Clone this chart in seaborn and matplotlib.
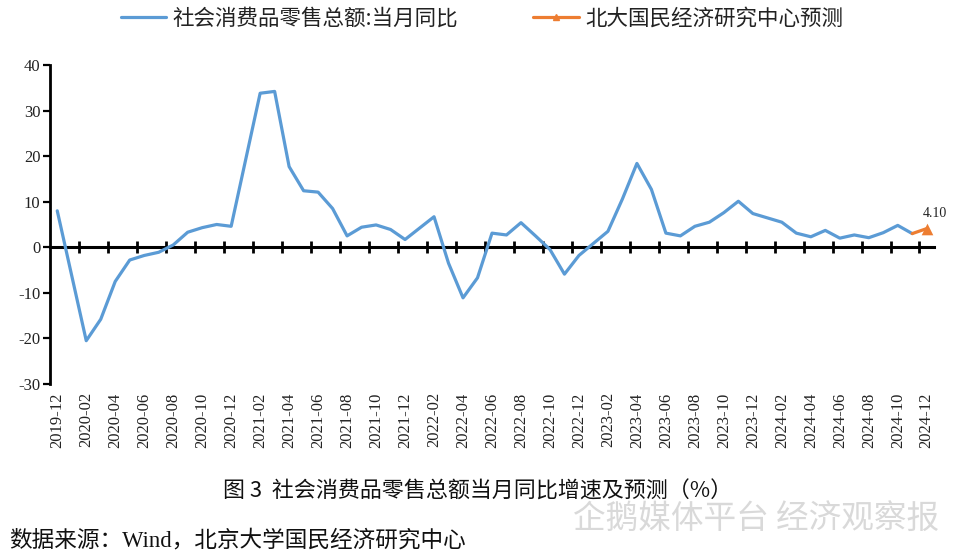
import matplotlib
matplotlib.use("Agg")
import matplotlib.pyplot as plt
from matplotlib.lines import Line2D
import seaborn as sns
import pandas as pd

# ---------------- data ----------------
months = [
    "2019-12", "2020-02", "2020-03", "2020-04", "2020-05", "2020-06", "2020-07",
    "2020-08", "2020-09", "2020-10", "2020-11", "2020-12",
    "2021-02", "2021-03", "2021-04", "2021-05", "2021-06", "2021-07", "2021-08",
    "2021-09", "2021-10", "2021-11", "2021-12",
    "2022-02", "2022-03", "2022-04", "2022-05", "2022-06", "2022-07", "2022-08",
    "2022-09", "2022-10", "2022-11", "2022-12",
    "2023-02", "2023-03", "2023-04", "2023-05", "2023-06", "2023-07", "2023-08",
    "2023-09", "2023-10", "2023-11", "2023-12",
    "2024-02", "2024-03", "2024-04", "2024-05", "2024-06", "2024-07", "2024-08",
    "2024-09", "2024-10", "2024-11",
]
retail_yoy = [
    8.0, -20.5, -15.8, -7.5, -2.8, -1.8, -1.1,
    0.5, 3.3, 4.3, 5.0, 4.6,
    33.8, 34.2, 17.7, 12.4, 12.1, 8.5, 2.5,
    4.4, 4.9, 3.9, 1.7,
    6.7, -3.5, -11.1, -6.7, 3.1, 2.7, 5.4,
    2.5, -0.5, -5.9, -1.8,
    3.5, 10.6, 18.4, 12.7, 3.1, 2.5, 4.6,
    5.5, 7.6, 10.1, 7.4,
    5.5, 3.1, 2.3, 3.7, 2.0, 2.7, 2.1,
    3.2, 4.8, 3.0,
]
forecast_months = ["2024-11", "2024-12"]
forecast_vals = [3.0, 4.10]

start_month = "2019-12"
end_month = "2024-12"
label_months = pd.period_range(start_month, end_month, freq="M").strftime("%Y-%m").tolist()[::2]

series1_name = "社会消费品零售总额:当月同比"
series2_name = "北大国民经济研究中心预测"
caption = "图 3  社会消费品零售总额当月同比增速及预测（%）"
source = "数据来源：Wind，北京大学国民经济研究中心"
watermark = "企鹅媒体平台 经济观察报"

BLUE = "#5B9BD5"
ORANGE = "#ED7D31"


def month_index(m):
    p0 = pd.Period(start_month, freq="M")
    return (pd.Period(m, freq="M") - p0).n


df1 = pd.DataFrame({"x": [month_index(m) for m in months], "y": retail_yoy})
df2 = pd.DataFrame({"x": [month_index(m) for m in forecast_months], "y": forecast_vals})
n_total = month_index(end_month)

# ---------------- figure ----------------
sns.set_style("ticks")
plt.rcParams["font.family"] = ["Liberation Serif", "Noto Sans CJK SC", "DejaVu Sans"]
CJK = ["Noto Sans CJK SC", "DejaVu Sans"]
SERIF = ["Liberation Serif", "Noto Sans CJK SC"]

fig = plt.figure(figsize=(9.6, 5.54), dpi=100)
ax = fig.add_axes([0.0521, 0.3069, 0.9208, 0.5758])

sns.lineplot(data=df1, x="x", y="y", ax=ax, color=BLUE, linewidth=2.3,
             sort=False, legend=False)
sns.lineplot(data=df2, x="x", y="y", ax=ax, color=ORANGE, linewidth=2.3,
             sort=False, legend=False)
sns.scatterplot(data=df2.iloc[[-1]], x="x", y="y", ax=ax, color=ORANGE,
                marker="^", s=70, linewidth=0, legend=False, zorder=5)

last = df2.iloc[-1]
ax.annotate(f"{last['y']:.2f}", xy=(last["x"], last["y"]), xytext=(-3, 11),
            textcoords="offset points", ha="left", va="center",
            fontsize=10, family=SERIF, color="#222222")

# axes limits and spines
ax.set_xlim(-0.5, n_total + 0.5)
ax.set_ylim(-30, 40)
ax.set_yticks(range(-30, 41, 10))
ax.set_yticklabels([str(v) for v in range(-30, 41, 10)], family=SERIF, fontsize=12)
ax.set_xlabel("")
ax.set_ylabel("")
for s in ["top", "right"]:
    ax.spines[s].set_visible(False)
ax.spines["left"].set_linewidth(2.0)
ax.spines["left"].set_color("black")
ax.spines["bottom"].set_position(("data", 0))
ax.spines["bottom"].set_linewidth(2.2)
ax.spines["bottom"].set_color("black")
ax.spines["bottom"].set_zorder(1)

# tick marks on the zero line, between categories
ax.set_xticks([i + 0.5 for i in range(1, n_total, 2)])
ax.set_xticklabels([])
ax.tick_params(axis="x", direction="inout", length=9, width=2.0, color="black")
ax.tick_params(axis="y", direction="out", length=5, width=1.6, color="black",
               pad=2, labelcolor="#222222")

# date labels at the bottom of the plot
sec = ax.secondary_xaxis("bottom")
sec.set_xticks(list(range(0, n_total + 1, 2)))
sec.set_xticklabels(label_months, rotation=90, family=SERIF, fontsize=12,
                    color="#222222")
sec.tick_params(length=0, pad=6)
sec.spines["bottom"].set_visible(False)

# legend
handles = [
    Line2D([], [], color=BLUE, linewidth=2.3),
    Line2D([], [], color=ORANGE, linewidth=2.3, marker="^", markersize=5),
]
fig.legend(handles, [series1_name, series2_name], loc="center",
           bbox_to_anchor=(0.502, 0.967), ncol=2, frameon=False,
           prop={"family": CJK, "size": 15.5}, handlelength=2.1,
           handletextpad=0.3, columnspacing=3.5, labelcolor="#222222")

# caption, watermark and source
fig.text(0.497, 0.112, caption, ha="center", va="center", fontsize=15.8,
         family=CJK, color="#111111")
fig.text(0.597, 0.062, watermark, ha="left", va="center", fontsize=23.5,
         family=CJK, color="#d9d9d9")
fig.text(0.010, 0.024, source, ha="left", va="center", fontsize=16.3,
         family=SERIF, color="#111111")

fig.savefig("out.png", dpi=100)
